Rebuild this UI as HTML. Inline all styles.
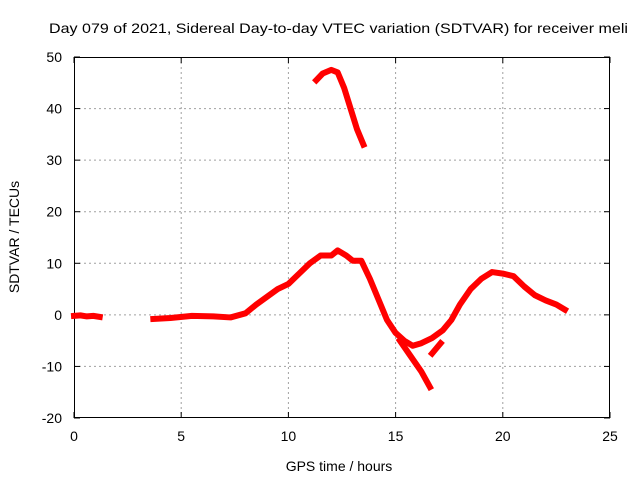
<!DOCTYPE html>
<html><head><meta charset="utf-8"><style>
html,body{margin:0;padding:0;background:#fff;}
svg{display:block;font-family:"Liberation Sans",sans-serif;}
</style></head><body>
<svg id="chart" width="640" height="480">
<text x="49" y="33" font-size="14" textLength="579" lengthAdjust="spacingAndGlyphs">Day 079 of 2021, Sidereal Day-to-day VTEC variation (SDTVAR) for receiver meli</text>
<g id="grid"></g>
<g id="axes"></g>
<g id="series"></g>
<text x="339" y="471" font-size="14" text-anchor="middle">GPS time / hours</text>
<text x="19" y="237" font-size="14" text-anchor="middle" transform="rotate(-90 19 237)">SDTVAR / TECUs</text>
</svg>
<script>
const xTicks=[0,5,10,15,20,25];
const yTicks=[-20,-10,0,10,20,30,40,50];
const segA_h=[0,0.3,0.6,0.9,1.2];
const segA_v=[-0.2,-0.1,-0.3,-0.2,-0.4];
const segB_h=[3.7,4.5,5.5,6.5,7.3,8,8.5,9,9.5,10,10.5,11,11.5,12,12.3,12.7,13,13.4,13.8,14.2,14.6,15,15.4,15.8,16.2,16.7,17.2,17.6,18,18.5,19,19.5,20,20.5,21,21.5,22,22.5,22.9];
const segB_v=[-0.8,-0.6,-0.2,-0.3,-0.5,0.3,2,3.5,5,6,8,10,11.5,11.5,12.5,11.5,10.5,10.5,7,3,-1,-3.5,-5,-6,-5.5,-4.5,-3,-1,2,5,7,8.3,8,7.5,5.5,3.8,2.8,2,1];
const segC_h=[15.2,15.7,16.2,16.6];
const segC_v=[-5,-8,-11,-14];
const segD_h=[16.7,16.9,17.1];
const segD_v=[-7.5,-6.5,-5.5];
const segE_h=[11.3,11.6,12,12.3,12.6,12.9,13.2,13.5];
const segE_v=[45.5,46.8,47.5,47,44,40,36,33];

const L=74,R=610,T=57,B=418;
const X=h=>L+(h-0)/(25-0)*(R-L);
const Y=v=>B-(v+20)/70*(B-T);
const NS="http://www.w3.org/2000/svg";
function mk(tag,parent,attrs){const e=document.createElementNS(NS,tag);for(const k in attrs)e.setAttribute(k,attrs[k]);parent.appendChild(e);return e;}
const grid=document.getElementById('grid'),axes=document.getElementById('axes'),series=document.getElementById('series');
xTicks.forEach(t=>{
  const x=X(t);
  if(t>0&&t<25){const g=mk('line',grid,{x1:x,x2:x,y1:T,y2:B,stroke:'#a0a0a0','stroke-dasharray':'2,3','stroke-width':1});
  
  }
  mk('line',axes,{x1:x,x2:x,y1:B,y2:B-6,stroke:'#000'});
  mk('line',axes,{x1:x,x2:x,y1:T,y2:T+6,stroke:'#000'});
  const lb=mk('text',axes,{x:x,y:B+23,'font-size':14,'text-anchor':'middle'});lb.textContent=t;
  
  
});
yTicks.forEach(t=>{
  const y=Y(t);
  if(t>-20&&t<50){const g=mk('line',grid,{x1:L,x2:R,y1:y,y2:y,stroke:'#a0a0a0','stroke-dasharray':'2,3','stroke-width':1});
  
  }
  mk('line',axes,{x1:L,x2:L+6,y1:y,y2:y,stroke:'#000'});
  mk('line',axes,{x1:R,x2:R-6,y1:y,y2:y,stroke:'#000'});
  const lb=mk('text',axes,{x:L-12,y:y+5,'font-size':14,'text-anchor':'end'});lb.textContent=t;
  
  
});
const fr=mk('rect',axes,{x:L+0.5,y:T+0.5,width:R-L-1,height:B-T-1,fill:'none',stroke:'#000'});


[[segA_h,segA_v,'segment-a'],[segB_h,segB_v,'segment-b'],[segC_h,segC_v,'segment-c'],[segD_h,segD_v,'segment-d'],[segE_h,segE_v,'segment-e']].forEach(([hs,vs,n])=>{
  const p=mk('polyline',series,{points:hs.map((h,i)=>X(h)+','+Y(vs[i])).join(' '),fill:'none',stroke:'#ff0000','stroke-width':6,'stroke-linejoin':'round','stroke-linecap':'square'});
  
  
});
</script>
</body></html>
